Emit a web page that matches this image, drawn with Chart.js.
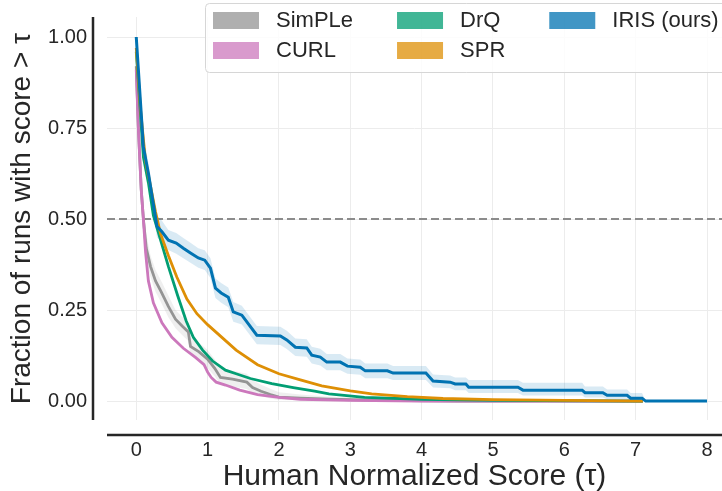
<!DOCTYPE html>
<html>
<head>
<meta charset="utf-8">
<script src="https://cdn.jsdelivr.net/npm/chart.js@4.4.1/dist/chart.umd.min.js"></script>
<style>
  html, body { margin: 0; padding: 0; background: #fff; }
  #wrap { width: 722px; height: 491px; }
</style>
</head>
<body>
<div id="wrap"><canvas id="profile-chart" width="722" height="491"></canvas></div>
<script>
// tick labels
const scoreTicks = [0, 1, 2, 3, 4, 5, 6, 7, 8];
const fractionTicks = [0, 0.25, 0.5, 0.75, 1.0];

// IRIS (ours)
const irisTau = [0, 0.10, 0.17, 0.27, 0.29, 0.36, 0.45, 0.56, 0.66, 0.76, 0.87, 0.96, 1.04, 1.11, 1.19, 1.29, 1.36, 1.48, 1.69, 2.02, 2.11, 2.23, 2.39, 2.46, 2.58, 2.67, 2.86, 2.96, 3.14, 3.21, 3.52, 3.60, 4.06, 4.16, 4.40, 4.47, 4.62, 4.66, 5.35, 5.42, 6.25, 6.29, 6.54, 6.60, 6.88, 6.93, 7.09, 7.14, 8.0];
const iris = [1.0, 0.698, 0.626, 0.505, 0.48, 0.465, 0.442, 0.434, 0.42, 0.407, 0.393, 0.387, 0.365, 0.31, 0.297, 0.285, 0.245, 0.236, 0.181, 0.179, 0.168, 0.148, 0.146, 0.126, 0.121, 0.107, 0.107, 0.096, 0.093, 0.083, 0.083, 0.077, 0.077, 0.055, 0.052, 0.047, 0.047, 0.038, 0.038, 0.030, 0.030, 0.023, 0.023, 0.016, 0.016, 0.008, 0.008, 0, 0];
const irisLow = [1.0, 0.67, 0.60, 0.475, 0.45, 0.435, 0.415, 0.405, 0.392, 0.38, 0.366, 0.36, 0.338, 0.283, 0.27, 0.258, 0.218, 0.21, 0.156, 0.154, 0.143, 0.124, 0.122, 0.103, 0.098, 0.085, 0.085, 0.075, 0.072, 0.063, 0.063, 0.058, 0.058, 0.037, 0.035, 0.03, 0.03, 0.022, 0.022, 0.015, 0.015, 0.01, 0.01, 0.005, 0.005, 0, 0, 0, 0];
const irisHigh = [1.0, 0.73, 0.655, 0.535, 0.51, 0.495, 0.47, 0.462, 0.448, 0.435, 0.42, 0.414, 0.392, 0.337, 0.324, 0.312, 0.272, 0.262, 0.206, 0.204, 0.193, 0.172, 0.17, 0.149, 0.144, 0.129, 0.129, 0.117, 0.114, 0.103, 0.103, 0.096, 0.096, 0.073, 0.07, 0.065, 0.065, 0.058, 0.058, 0.05, 0.05, 0.04, 0.04, 0.032, 0.032, 0.022, 0.022, 0, 0];

// SPR
const sprTau = [0, 0.06, 0.13, 0.2, 0.27, 0.34, 0.45, 0.57, 0.71, 0.85, 1.0, 1.2, 1.4, 1.7, 2.0, 2.3, 2.6, 3.0, 3.3, 3.8, 4.3, 5.0, 6.0, 7.1];
const spr = [0.97, 0.80, 0.66, 0.59, 0.52, 0.46, 0.40, 0.34, 0.28, 0.24, 0.21, 0.175, 0.14, 0.10, 0.075, 0.058, 0.042, 0.028, 0.02, 0.012, 0.007, 0.004, 0.002, 0];

// DrQ
const drqTau = [0, 0.1, 0.17, 0.24, 0.33, 0.45, 0.58, 0.7, 0.8, 0.93, 1.07, 1.25, 1.4, 1.6, 1.9, 2.2, 2.5, 2.7, 3.2, 4.0, 5.0, 7.1];
const drq = [0.96, 0.67, 0.60, 0.51, 0.45, 0.37, 0.29, 0.22, 0.175, 0.14, 0.11, 0.085, 0.075, 0.062, 0.048, 0.037, 0.027, 0.02, 0.01, 0.005, 0.002, 0];

// CURL
const curlTau = [0, 0.03, 0.07, 0.1, 0.13, 0.17, 0.24, 0.36, 0.5, 0.66, 0.83, 0.95, 1.0, 1.05, 1.12, 1.25, 1.45, 1.7, 2.0, 2.3, 3.0, 4.0, 7.1];
const curl = [0.91, 0.745, 0.58, 0.50, 0.41, 0.33, 0.27, 0.215, 0.175, 0.145, 0.12, 0.10, 0.08, 0.065, 0.052, 0.044, 0.03, 0.018, 0.01, 0.005, 0.002, 0, 0];

// SimPLe
const simpleTau = [0, 0.03, 0.07, 0.1, 0.14, 0.2, 0.27, 0.35, 0.45, 0.55, 0.65, 0.73, 0.76, 0.88, 1.0, 1.1, 1.18, 1.35, 1.55, 1.63, 1.75, 1.88, 2.0, 2.3, 2.7, 3.5, 4.5, 7.1];
const simple = [0.92, 0.75, 0.58, 0.50, 0.42, 0.37, 0.33, 0.30, 0.26, 0.225, 0.205, 0.19, 0.15, 0.135, 0.115, 0.09, 0.065, 0.06, 0.052, 0.037, 0.027, 0.018, 0.011, 0.008, 0.005, 0.002, 0, 0];
const simpleLow = [0.89, 0.71, 0.54, 0.46, 0.38, 0.34, 0.30, 0.27, 0.23, 0.20, 0.18, 0.165, 0.125, 0.11, 0.09, 0.068, 0.045, 0.04, 0.033, 0.02, 0.013, 0.007, 0.003, 0.002, 0.001, 0, 0, 0];
const simpleHigh = [0.95, 0.79, 0.62, 0.54, 0.46, 0.40, 0.36, 0.33, 0.29, 0.25, 0.23, 0.215, 0.175, 0.16, 0.14, 0.115, 0.09, 0.083, 0.075, 0.058, 0.045, 0.034, 0.024, 0.018, 0.012, 0.006, 0.002, 0];

const xMin = -0.41, xMax = 8.21;
const yMin = -0.052, yMax = 1.055;
const threshold = 0.5;

const FONT = '"Liberation Sans", Arial, sans-serif';
const TEXT = '#262626';

const pts = (xs, ys) => xs.map((x, i) => ({x: x, y: ys[i]}));

const curve = (label, xs, ys, color, order, width) => ({
    label: label,
    data: pts(xs, ys),
    borderColor: color,
    borderWidth: width,
    pointRadius: 0,
    fill: false,
    tension: 0,
    order: order
});

const band = (xs, ys, color, order, fill) => ({
    label: '',
    data: pts(xs, ys),
    borderWidth: 0,
    borderColor: 'rgba(0,0,0,0)',
    backgroundColor: color,
    pointRadius: 0,
    fill: fill,
    tension: 0,
    order: order
});

// legend in matplotlib column order (2 rows x 3 cols)
const legendItems = [
    {label: 'SimPLe', color: 'rgba(148,148,148,0.75)'},
    {label: 'CURL', color: 'rgba(204,120,188,0.75)'},
    {label: 'DrQ', color: 'rgba(2,158,115,0.75)'},
    {label: 'SPR', color: 'rgba(222,143,5,0.75)'},
    {label: 'IRIS (ours)', color: 'rgba(1,115,178,0.75)'}
];

const spines = {
    id: 'spines',
    afterDraw(chart) {
        const {ctx, chartArea} = chart;
        ctx.save();
        ctx.strokeStyle = TEXT;
        ctx.lineWidth = 2.5;
        ctx.beginPath();
        ctx.moveTo(chartArea.left - 14, chartArea.top);
        ctx.lineTo(chartArea.left - 14, chartArea.bottom);
        ctx.moveTo(chartArea.left, chartArea.bottom + 15);
        ctx.lineTo(chartArea.right, chartArea.bottom + 15);
        ctx.stroke();
        ctx.restore();
    }
};

const boxLegend = {
    id: 'boxLegend',
    afterDraw(chart) {
        const ctx = chart.ctx;
        ctx.save();
        ctx.font = '22px ' + FONT;
        const left = 205, top = 3, rowH = 30;
        ctx.beginPath();
        ctx.roundRect(left + 0.5, top + 0.5, 540, 69, 4);
        ctx.fillStyle = 'rgba(255,255,255,0.85)';
        ctx.fill();
        ctx.strokeStyle = '#d6d6d6';
        ctx.lineWidth = 1;
        ctx.stroke();
        let x = left + 8;
        for (let col = 0; col * 2 < legendItems.length; col++) {
            let maxW = 0;
            for (let row = 0; row < 2; row++) {
                const item = legendItems[col * 2 + row];
                if (!item) continue;
                const y = top + 9 + row * rowH;
                ctx.fillStyle = item.color;
                ctx.fillRect(x, y, 46, 17);
                ctx.fillStyle = TEXT;
                ctx.textBaseline = 'middle';
                ctx.fillText(item.label, x + 63, y + 9);
                maxW = Math.max(maxW, ctx.measureText(item.label).width);
            }
            x += 63 + maxW + 44;
        }
        ctx.restore();
    }
};

new Chart(document.getElementById('profile-chart').getContext('2d'), {
    type: 'line',
    data: {
        datasets: [
            curve('IRIS (ours)', irisTau, iris, '#0173b2', 0, 3),
            curve('SPR', sprTau, spr, '#de8f05', 1, 2.8),
            curve('DrQ', drqTau, drq, '#029e73', 2, 2.8),
            curve('CURL', curlTau, curl, '#cc78bc', 3, 2.8),
            curve('SimPLe', simpleTau, simple, '#949494', 4, 2.8),
            band(irisTau, irisHigh, 'rgba(1,115,178,0.15)', 5, '+1'),
            band(irisTau, irisLow, 'rgba(0,0,0,0)', 6, false),
            band(simpleTau, simpleHigh, 'rgba(148,148,148,0.15)', 7, '+1'),
            band(simpleTau, simpleLow, 'rgba(0,0,0,0)', 8, false),
            {
                label: '',
                data: [{x: xMin, y: threshold}, {x: xMax, y: threshold}],
                borderColor: '#8c8c8c',
                borderWidth: 2,
                borderDash: [8, 4],
                pointRadius: 0,
                fill: false,
                order: 9
            }
        ]
    },
    options: {
        animation: false,
        responsive: false,
        layout: { padding: { top: 17, right: 0, left: 0, bottom: 0 } },
        plugins: {
            legend: { display: false },
            tooltip: { enabled: false }
        },
        scales: {
            x: {
                type: 'linear',
                min: xMin,
                max: xMax,
                afterBuildTicks: (scale) => { scale.ticks = scoreTicks.map(v => ({value: v})); },
                afterFit: (scale) => {
                    scale.height = 71;
                    scale.paddingLeft = 0;
                    scale.paddingRight = 0;
                },
                grid: { color: '#ececec', lineWidth: 1, drawTicks: false },
                border: { display: false },
                ticks: {
                    padding: 18,
                    color: TEXT,
                    font: { family: FONT, size: 20 },
                    callback: (v) => String(v)
                },
                title: {
                    display: true,
                    text: 'Human Normalized Score (\u03c4)',
                    color: TEXT,
                    font: { family: FONT, size: 30 },
                    padding: { top: 0, bottom: -4 }
                }
            },
            y: {
                min: yMin,
                max: yMax,
                afterBuildTicks: (scale) => { scale.ticks = fractionTicks.map(v => ({value: v})); },
                afterFit: (scale) => {
                    scale.width = 107;
                    scale.paddingTop = 0;
                    scale.paddingBottom = 0;
                },
                grid: { color: '#ececec', lineWidth: 1, drawTicks: false },
                border: { display: false },
                ticks: {
                    padding: 20,
                    color: TEXT,
                    font: { family: FONT, size: 20 },
                    callback: (v) => v.toFixed(2)
                },
                title: {
                    display: true,
                    text: 'Fraction of runs with score > \u03c4',
                    color: TEXT,
                    font: { family: FONT, size: 28 },
                    padding: { top: 5, bottom: 0 }
                }
            }
        }
    },
    plugins: [spines, boxLegend]
});
</script>
</body>
</html>
